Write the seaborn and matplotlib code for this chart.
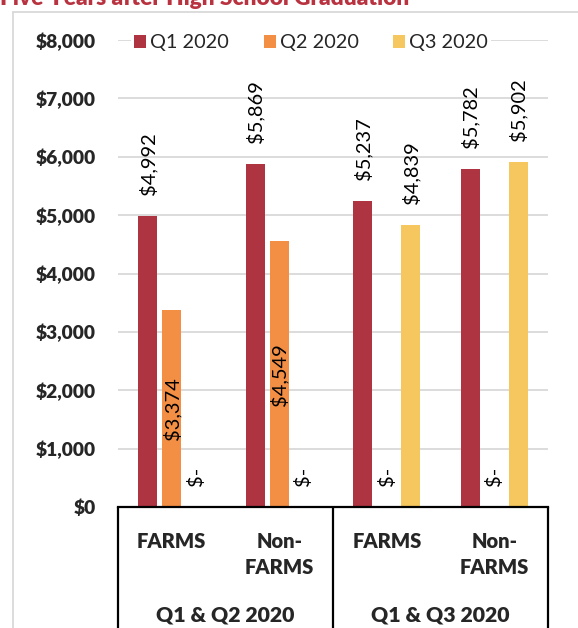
import matplotlib
matplotlib.use("Agg")
import matplotlib.pyplot as plt
import matplotlib.transforms as mtransforms
from matplotlib.lines import Line2D
import pandas as pd
import seaborn as sns

# ---- data ----
title = "Five Years after High School Graduation"
groups = ["Q1 & Q2 2020", "Q1 & Q2 2020", "Q1 & Q3 2020", "Q1 & Q3 2020"]
students = ["FARMS", "Non-FARMS", "FARMS", "Non-FARMS"]
tick_labels = ["FARMS", "Non-\nFARMS", "FARMS", "Non-\nFARMS"]
group_labels = ["Q1 & Q2 2020", "Q1 & Q3 2020"]
quarters = ["Q1 2020", "Q2 2020", "Q3 2020"]
q1_2020 = [4992, 5869, 5237, 5782]
q2_2020 = [3374, 4549, 0, 0]
q3_2020 = [0, 0, 4839, 5902]
y_ticks = [0, 1000, 2000, 3000, 4000, 5000, 6000, 7000, 8000]

colors = ["#AD3440", "#F28F45", "#F5C75E"]
inside_series = {"Q2 2020"}  # series whose labels sit in the middle of the bar

keys = [f"{g} | {s}" for g, s in zip(groups, students)]
rows = []
for q, vals in zip(quarters, [q1_2020, q2_2020, q3_2020]):
    for k, v in zip(keys, vals):
        rows.append({"key": k, "quarter": q, "earnings": v})
df = pd.DataFrame(rows)


def money(v):
    return "$-" if v == 0 else f"${v:,.0f}"


# ---- figure ----
sns.set_theme(style="white")
plt.rcParams["font.family"] = ["Lato", "DejaVu Sans"]

W, H = 578, 628
fig = plt.figure(figsize=(W / 100, H / 100), dpi=100)
ax_left, ax_right, ax_top, ax_bottom = 118, 548, 40, 507
ax = fig.add_axes([ax_left / W, 1 - ax_bottom / H,
                   (ax_right - ax_left) / W, (ax_bottom - ax_top) / H])

sns.barplot(data=df, x="key", y="earnings", hue="quarter",
            order=keys, hue_order=quarters, palette=colors,
            saturation=1, width=0.67, gap=0.2, errorbar=None,
            linewidth=0, ax=ax)

ax.set_xlim(-0.5, len(keys) - 0.5)
ax.set_ylim(0, 8000)
ax.set_yticks(y_ticks)
ax.set_yticklabels([f"${v:,}" for v in y_ticks], fontsize=13.8, fontweight="heavy")
ax.tick_params(axis="y", length=0, pad=16)
ax.yaxis.grid(True, color="#D9D9D9", linewidth=1.3)
ax.set_axisbelow(True)
ax.set_xlabel("")
ax.set_ylabel("")
for side in ["left", "right", "top"]:
    ax.spines[side].set_visible(False)
ax.spines["bottom"].set_color("black")
ax.spines["bottom"].set_linewidth(1.6)

ax.set_xticks(range(len(keys)))
ax.set_xticklabels(tick_labels, fontsize=14.5, fontweight="heavy",
                   va="top", linespacing=1.45)
ax.tick_params(axis="x", length=0, pad=18)

# group labels and separators of the two-level category axis
trans = mtransforms.blended_transform_factory(ax.transData, ax.transAxes)
for i, gl in enumerate(group_labels):
    ax.text(2 * i + 0.5, -(615 - ax_bottom) / (ax_bottom - ax_top), gl,
            transform=trans, ha="center", va="center",
            fontsize=15.3, fontweight="heavy", clip_on=False)
y_low = -(H - ax_bottom + 2) / (ax_bottom - ax_top)
for xs in [-0.5, 1.5, 3.5]:
    ax.add_line(Line2D([xs, xs], [0, y_low], transform=trans, color="black",
                       linewidth=1.6, clip_on=False, solid_capstyle="butt"))

# value labels
for q, cont in zip(quarters, ax.containers):
    for bar in cont:
        h = bar.get_height()
        xc = bar.get_x() + bar.get_width() / 2
        if q in inside_series and h > 0:
            ax.annotate(money(h), (xc, h / 2), ha="center", va="center",
                        rotation=90, fontsize=14.4, color="black")
        else:
            ax.annotate(money(h), (xc, h), xytext=(0, 21),
                        textcoords="offset pixels", ha="center", va="bottom",
                        rotation=90, fontsize=14.4, color="black")

# legend across the top gridline
sns.move_legend(ax, "center", bbox_to_anchor=(0.449, 0.994), ncol=3,
                title=None, frameon=True, fontsize=14.3,
                handlelength=0.6, handleheight=0.6, handletextpad=0.2,
                columnspacing=1.75, borderpad=0.15)
leg = ax.get_legend()
leg.get_frame().set_facecolor("white")
leg.get_frame().set_edgecolor("none")
leg.get_frame().set_alpha(1)
leg.set_zorder(5)

# outer chart frame
fig.add_artist(Line2D([13 / W, 1], [1 - 12 / H, 1 - 12 / H],
                      transform=fig.transFigure, color="#D9D9D9", linewidth=1.3))
fig.add_artist(Line2D([13 / W, 13 / W], [0, 1 - 12 / H],
                      transform=fig.transFigure, color="#D9D9D9", linewidth=1.3))

# chart title, clipped by the top edge
fig.text(0.0, 1 - 5 / H, title, ha="left", va="baseline",
         fontsize=16.3, fontweight="heavy", color="#B8323F")

fig.savefig("out.png", dpi=100)
